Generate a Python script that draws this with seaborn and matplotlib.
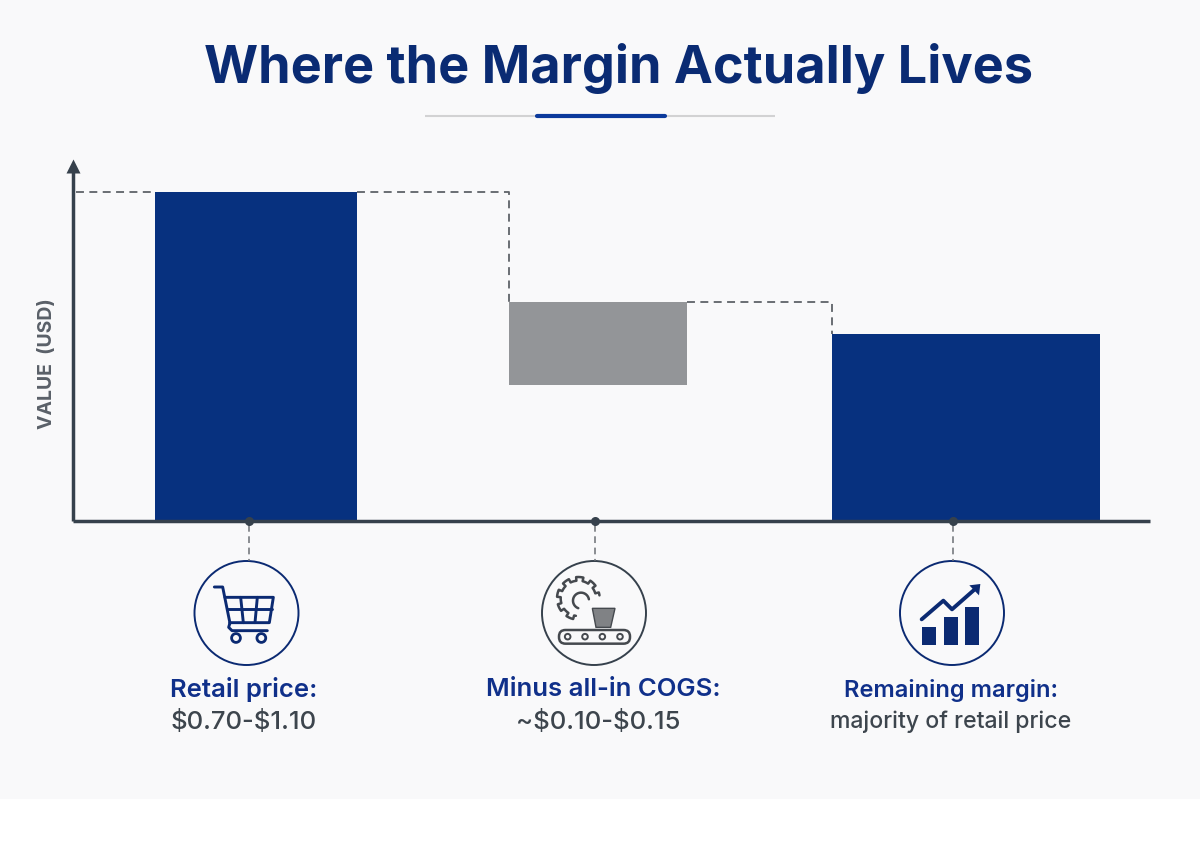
import numpy as np
import pandas as pd
import seaborn as sns
import matplotlib
matplotlib.use("Agg")
import matplotlib.pyplot as plt
from matplotlib.patches import Circle, Polygon, Rectangle, FancyBboxPatch

# Waterfall steps, on a scale where the retail price is 100
categories = ["Retail price", "Minus all-in COGS", "Remaining margin"]
bar_tops = [100.0, 66.6, 56.8]
bar_bottoms = [0.0, 41.3, 0.0]
headings = ["Retail price:", "Minus all-in COGS:", "Remaining margin:"]
details = [r"\$0.70-\$1.10", r"~\$0.10-\$0.15", "majority of retail price"]
title_text = "Where the Margin Actually Lives"
axis_label = "VALUE  (USD)"

NAVY = "#07317F"
ICON_NAVY = "#0B2A72"
TITLE_NAVY = "#0A2B73"
HEAD_NAVY = "#10308A"
SLATE = "#36414C"
GREY_BAR = "#939598"
FACE = "#F9F9FA"
FONT = ["Inter", "DejaVu Sans"]

# Layout, in pixels from the top left of the figure
AX_LEFT, AX_RIGHT, AX_TOP, AX_BASE = 73, 1150, 170, 521
BAR_SPANS = [(155, 357), (509, 687), (832, 1100)]
MARK_X = [249, 595, 953]
ICON_X = [246.5, 594, 952]
ICON_Y, ICON_R = 613, 52
HEAD_X = [244, 603, 951]
BODY_X = [244, 598, 951]
HEAD_Y = [689, 689, 690]
HEAD_SIZES = [18.5, 18.5, 17]
BODY_SIZES = [18.5, 18.5, 16.6]
PX_PER_UNIT = 3.29
DASHES = (0, (4.4, 3))

sns.set_theme(style="white")
plt.rcParams["font.family"] = FONT

fig = plt.figure(figsize=(12, 8.64), dpi=100, facecolor="white")

# Pixel-addressed layers behind and in front of the chart
back = fig.add_axes([0, 0, 1, 1], zorder=-1)
back.set_xlim(0, 1200)
back.set_ylim(864, 0)
back.axis("off")
back.add_patch(Rectangle((0, 0), 1200, 799, fc=FACE, ec="none"))

ax = fig.add_axes([AX_LEFT / 1200, 1 - AX_BASE / 864,
                   (AX_RIGHT - AX_LEFT) / 1200, (AX_BASE - AX_TOP) / 864], zorder=1)
ax.patch.set_alpha(0)

front = fig.add_axes([0, 0, 1, 1], zorder=2)
front.set_xlim(0, 1200)
front.set_ylim(864, 0)
front.axis("off")

# Bars
centers = [(a + b) / 2 for a, b in BAR_SPANS]
frame = pd.DataFrame({"step": categories, "x": centers, "top": bar_tops})
sns.barplot(data=frame, x="x", y="top", hue="step", palette=[NAVY, GREY_BAR, NAVY],
            native_scale=True, legend=False, ax=ax, saturation=1, linewidth=0)
ax.set_xlim(AX_LEFT, AX_RIGHT)
ax.set_ylim(0, (AX_BASE - AX_TOP) / PX_PER_UNIT)
for patch, (x0, x1), low, high in zip(ax.patches, BAR_SPANS, bar_bottoms, bar_tops):
    patch.set_x(x0)
    patch.set_width(x1 - x0)
    patch.set_y(low)
    patch.set_height(high - low)

# Axes drawn as heavy lines, the vertical one ending in an arrow
sns.despine(ax=ax)
for side in ("left", "bottom"):
    ax.spines[side].set_color(SLATE)
    ax.spines[side].set_linewidth(2.5)
    ax.spines[side].set_capstyle("butt")
ax.set_xticks([])
ax.set_yticks([])
ax.set_xlabel("")
ax.set_ylabel("")
ax.plot([0], [1.01], marker="^", ms=10.5, color=SLATE, mec="none",
        transform=ax.transAxes, clip_on=False)

# Dashed connectors between the steps
dash = dict(color="#5F6368", lw=1.3, ls=DASHES, zorder=3)
ax.plot([AX_LEFT + 3, BAR_SPANS[0][0]], [bar_tops[0]] * 2, **dash)
ax.plot([BAR_SPANS[0][1], BAR_SPANS[1][0], BAR_SPANS[1][0]],
        [bar_tops[0], bar_tops[0], bar_tops[1]], **dash)
ax.plot([BAR_SPANS[1][1], BAR_SPANS[2][0], BAR_SPANS[2][0]],
        [bar_tops[1], bar_tops[1], bar_tops[2]], **dash)

# Title and rule
front.text(618.5, 68, title_text, ha="center", va="center", fontsize=37.6,
           fontweight="bold", color=TITLE_NAVY)
front.plot([425, 775], [116, 116], color="#D2D2D3", lw=1.5, solid_capstyle="butt")
front.plot([537, 665], [116, 116], color="#0C3A9C", lw=3, solid_capstyle="round")

front.text(47, 364, axis_label, rotation=90, ha="center", va="center",
           fontsize=14, fontweight="bold", color="#5A6068")

# Markers under the baseline, leading to the icons
for mx, ix, color in zip(MARK_X, ICON_X, [ICON_NAVY, SLATE, ICON_NAVY]):
    front.plot([mx, mx], [525, ICON_Y - ICON_R], color="#6B6F74", lw=1.1, ls=DASHES)
    front.plot([mx], [521], "o", ms=6.5, color=SLATE, mec="none")
    front.add_patch(Circle((ix, ICON_Y), ICON_R, fc="none", ec=color, lw=1.4))


def pts(ox, oy, seq):
    """Convert icon outline points given at triple scale to pixels."""
    return [(ox + x / 3, oy + y / 3) for x, y in seq]


def stroke(ox, oy, seq, color, lw=2.1):
    p = np.array(pts(ox, oy, seq))
    front.plot(p[:, 0], p[:, 1], color=color, lw=lw, solid_capstyle="round",
               solid_joinstyle="round")


# Shopping cart
ox, oy = 150, 510
stroke(ox, oy, [(193, 231), (218, 231), (240, 340)], ICON_NAVY)
stroke(ox, oy, [(225, 262), (370, 262), (358, 338), (240, 338)], ICON_NAVY)
stroke(ox, oy, [(272, 262), (280, 338)], ICON_NAVY)
stroke(ox, oy, [(322, 262), (315, 338)], ICON_NAVY)
stroke(ox, oy, [(232, 298), (365, 298)], ICON_NAVY)
stroke(ox, oy, [(240, 338), (236, 352), (246, 362), (352, 362)], ICON_NAVY)
for cx in (258, 334):
    front.add_patch(Circle((ox + cx / 3, oy + 384 / 3), 4.4, fc="none", ec=ICON_NAVY, lw=2.0))

# Gear beside a conveyor
ox, oy = 480, 510
GEAR_INK = "#45494E"
gear_c = (295, 265)
sweep = np.radians(np.linspace(262, 8, 700))
radius = 53 + 11 * (np.sin(sweep * 9 + 0.6) > 0)
stroke(ox, oy, [(gear_c[0] + r * np.cos(a), gear_c[1] - r * np.sin(a))
                for a, r in zip(sweep, radius)], GEAR_INK, lw=1.8)
arc = np.radians(np.linspace(10, 250, 60))
stroke(ox, oy, [(303 + 24 * np.cos(a), 272 - 24 * np.sin(a)) for a in arc], GEAR_INK, lw=1.8)
front.add_patch(Polygon(pts(ox, oy, [(337, 295), (405, 295), (392, 352), (348, 352)]),
                        fc="#808285", ec=GEAR_INK, lw=1.0))
front.add_patch(FancyBboxPatch((ox + 237 / 3, oy + 360 / 3), 213 / 3, 41 / 3,
                               boxstyle="round,pad=0,rounding_size=6.5", mutation_aspect=1,
                               fc="none", ec=GEAR_INK, lw=1.8))
for cx in (263, 315, 367, 420):
    front.add_patch(Circle((ox + cx / 3, oy + 380 / 3), 2.8, fc="none", ec=GEAR_INK, lw=1.4))

# Rising bars with a trend arrow
ox, oy = 820, 510
for x0, x1, y0 in [(307, 349, 350), (371, 413, 322), (436, 478, 291)]:
    front.add_patch(Rectangle((ox + x0 / 3, oy + y0 / 3), (x1 - x0) / 3, (404 - y0) / 3,
                              fc=ICON_NAVY, ec="none"))
stroke(ox, oy, [(305, 328), (370, 272), (396, 298), (462, 240)], ICON_NAVY, lw=2.8)
front.add_patch(Polygon(pts(ox, oy, [(448, 226), (481, 222), (477, 256)]), fc=ICON_NAVY, ec="none"))

# Captions
for tx, ty, head, size in zip(HEAD_X, HEAD_Y, headings, HEAD_SIZES):
    front.text(tx, ty, head, ha="center", va="center", fontsize=size,
               fontweight="semibold", color=HEAD_NAVY)
for tx, body, size in zip(BODY_X, details, BODY_SIZES):
    front.text(tx, 722, body, ha="center", va="center", fontsize=size,
               fontweight="medium", color="#3D454D")

fig.savefig("out.png", dpi=100)
